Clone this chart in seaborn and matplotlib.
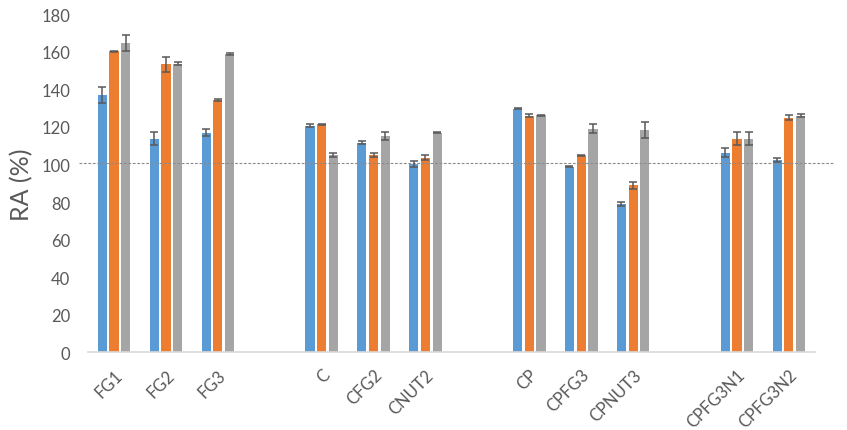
import numpy as np
import pandas as pd
import matplotlib
matplotlib.use("Agg")
import matplotlib.pyplot as plt
import seaborn as sns

# Sample names, with blank slots between the groups
categories = ["FG1", "FG2", "FG3", "gap1", "C", "CFG2", "CNUT2", "gap2",
              "CP", "CPFG3", "CPNUT3", "gap3", "CPFG3N1", "CPFG3N2"]
samples = ["FG1", "FG2", "FG3", "C", "CFG2", "CNUT2",
           "CP", "CPFG3", "CPNUT3", "CPFG3N1", "CPFG3N2"]

# RA values (%) and error bars for the three series
ra_1 = [136.8, 113.7, 117.0, 120.7, 111.6, 100.1, 129.7, 98.7, 78.8, 106.3, 102.3]
err_1 = [4.3, 3.4, 2.1, 0.8, 0.7, 1.5, 0.4, 0.3, 1.0, 2.4, 0.9]
ra_2 = [160.3, 153.2, 134.2, 121.4, 104.9, 103.6, 126.0, 104.9, 88.9, 113.7, 124.9]
err_2 = [0.3, 3.8, 0.7, 0.3, 1.0, 1.2, 0.9, 0.3, 1.9, 3.6, 1.5]
ra_3 = [164.4, 153.7, 158.7, 104.9, 115.2, 116.9, 126.2, 119.0, 118.2, 113.7, 126.0]
err_3 = [4.3, 0.7, 0.4, 1.0, 2.2, 0.4, 0.3, 2.4, 4.2, 3.6, 0.9]

reference_level = 101

series_names = ["S1", "S2", "S3"]
colors = ["#5B9BD5", "#ED7D31", "#A5A5A5"]

# Build a long table for seaborn
frames = []
for name, vals, errs in zip(series_names, [ra_1, ra_2, ra_3], [err_1, err_2, err_3]):
    frames.append(pd.DataFrame({"sample": samples, "series": name, "RA": vals, "err": errs}))
df = pd.concat(frames, ignore_index=True)

sns.set_style("white")
plt.rcParams["font.family"] = ["Lato", "DejaVu Sans"]

fig = plt.figure(figsize=(8.47, 4.31), dpi=100)
ax = fig.add_axes([0.104, 0.18, 0.858, 0.785])

sns.barplot(data=df, x="sample", y="RA", hue="series", order=categories,
            hue_order=series_names, palette=colors, saturation=1, errorbar=None,
            width=0.68, gap=0.22, linewidth=0, ax=ax, legend=False)

# Error bars placed on the bars seaborn drew
for name, container in zip(series_names, ax.containers):
    sub = df[df["series"] == name].set_index("sample")
    for bar in container:
        xc = bar.get_x() + bar.get_width() / 2
        idx = int(round(xc))
        cat = categories[idx]
        if cat not in sub.index:
            continue
        ax.errorbar(xc, bar.get_height(), yerr=sub.loc[cat, "err"],
                    fmt="none", ecolor="#595959", elinewidth=1.1,
                    capsize=3, capthick=1.1, zorder=3)

# Dashed reference line, a bit wider than the plot area
ax.axhline(reference_level, xmin=-0.012, xmax=1.025, color="#8C8C8C",
           linestyle=(0, (2.5, 1.5)), linewidth=0.8, clip_on=False, zorder=1)

ax.set_ylim(0, 180)
ax.set_yticks(range(0, 181, 20))
ax.set_xlim(-0.5, len(categories) - 0.5)

labels = ["" if c.startswith("gap") else c for c in categories]
ax.set_xticks(range(len(categories)))
ax.set_xticklabels(labels, rotation=45, ha="right", rotation_mode="anchor")

ax.tick_params(axis="y", length=0, pad=13, labelsize=12, labelcolor="#595959")
ax.tick_params(axis="x", length=0, pad=10, labelsize=12, labelcolor="#595959")

ax.set_xlabel("")
ax.set_ylabel("RA (%)", fontsize=18, color="#595959", labelpad=6)

for side in ["top", "right", "left"]:
    ax.spines[side].set_visible(False)
ax.spines["bottom"].set_color("#D9D9D9")
ax.spines["bottom"].set_linewidth(1.2)

fig.savefig("out.png", dpi=100)
